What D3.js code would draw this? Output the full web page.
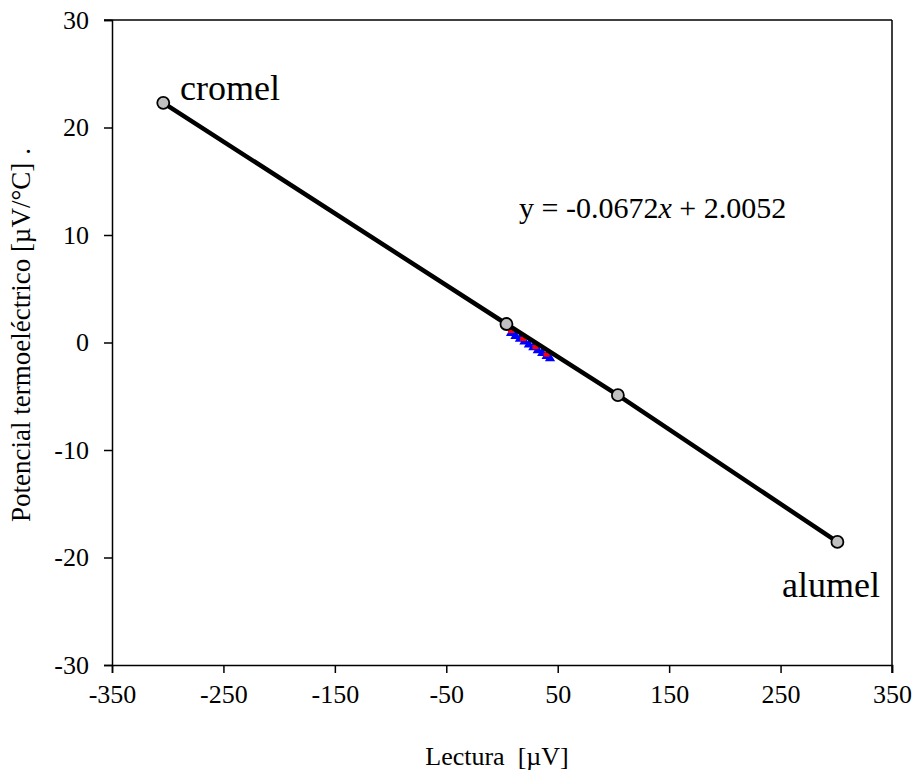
<!DOCTYPE html>
<html>
<head>
<meta charset="utf-8">
<script src="https://cdn.jsdelivr.net/npm/d3@7"></script>
<style>
  body { margin: 0; background: #fff; }
  text { font-family: "Liberation Serif", "Times New Roman", serif; fill: #000; }
</style>
</head>
<body>
<div id="chart"></div>
<script>
// calibration points (circles)
const puntosX = [-304, 4, 104, 301];
const puntosY = [22.3, 1.72, -4.9, -18.55];
// small measured points near the origin
const azulX = [9, 13, 17, 21, 25, 29, 33, 37, 41, 44];
const azulY = [1.25, 0.98, 0.72, 0.45, 0.18, -0.08, -0.35, -0.62, -0.88, -1.1];
const rojoX = [8, 19, 30, 40];
const rojoY = [1.35, 0.6, -0.15, -0.85];
const xTicks = [-350, -250, -150, -50, 50, 150, 250, 350];
const yTicks = [-30, -20, -10, 0, 10, 20, 30];

const width = 915, height = 777;
const margin = {top: 20, right: 23, bottom: 112, left: 112};

const svg = d3.select('#chart').append('svg')
    .attr('width', width).attr('height', height);

const x = d3.scaleLinear().domain([-350, 350]).range([margin.left, width - margin.right]);
const y = d3.scaleLinear().domain([-30, 30]).range([height - margin.bottom, margin.top]);

// frame (top + right)
svg.append('line')
    .attr('x1', x(-350) - 8).attr('x2', x(350))
    .attr('y1', y(30)).attr('y2', y(30))
    .attr('stroke', '#000').attr('stroke-width', 1.5);
svg.append('line')
    .attr('x1', x(350)).attr('x2', x(350))
    .attr('y1', y(30)).attr('y2', y(-30) + 8)
    .attr('stroke', '#000').attr('stroke-width', 1.5);

// X axis
const gx = svg.append('g')
    .attr('transform', `translate(0,${y(-30)})`)
    .call(d3.axisBottom(x).tickValues(xTicks).tickSize(8).tickPadding(12).tickFormat(d3.format('d')));
// Y axis
const gy = svg.append('g')
    .attr('transform', `translate(${x(-350)},0)`)
    .call(d3.axisLeft(y).tickValues(yTicks).tickSize(8).tickPadding(15).tickFormat(d3.format('d')));

[gx, gy].forEach(g => {
    g.attr('font-family', null).attr('font-size', null);
    g.select('.domain').attr('stroke', '#000').attr('stroke-width', 1.5);
    g.selectAll('.tick line').attr('stroke', '#000').attr('stroke-width', 1.5);
    g.selectAll('.tick text')
        .style('font-family', '"Liberation Serif", serif')
        .style('font-size', '26px').attr('fill', '#000')
        .text(d => d < 0 ? '-' + Math.abs(d) : d);
});

// small points under the line
svg.append('g').selectAll('path')
    .data(azulX.map((v, i) => ({x: v, y: azulY[i]})))
    .join('path')
    .attr('d', d3.symbol().type(d3.symbolTriangle).size(45))
    .attr('transform', d => `translate(${x(d.x) - 1},${y(d.y) + 4})`)
    .attr('fill', '#0000ff');
svg.append('g').selectAll('rect')
    .data(rojoX.map((v, i) => ({x: v, y: rojoY[i]})))
    .join('rect')
    .attr('x', d => x(d.x) - 3).attr('y', d => y(d.y) + 1)
    .attr('width', 6).attr('height', 4)
    .attr('fill', '#ff0000');

// fit line through calibration points
const puntos = puntosX.map((v, i) => ({x: v, y: puntosY[i]}));
svg.append('path')
    .datum(puntos)
    .attr('fill', 'none')
    .attr('stroke', '#000')
    .attr('stroke-width', 4.5)
    .attr('d', d3.line().x(d => x(d.x)).y(d => y(d.y)));

svg.append('g').selectAll('circle')
    .data(puntos)
    .join('circle')
    .attr('cx', d => x(d.x)).attr('cy', d => y(d.y))
    .attr('r', 6)
    .attr('fill', '#c0c0c0')
    .attr('stroke', '#000').attr('stroke-width', 1.8);

// labels
svg.append('text').attr('x', 180).attr('y', 100)
    .style('font-size', '36px').text('cromel');
svg.append('text').attr('x', 880).attr('y', 597)
    .attr('text-anchor', 'end')
    .style('font-size', '36px').text('alumel');

const eq = svg.append('text').attr('x', 519).attr('y', 218)
    .style('font-size', '30px');
eq.append('tspan').text('y = -0.0672');
eq.append('tspan').style('font-style', 'italic').text('x');
eq.append('tspan').text(' + 2.0052');

// axis titles
svg.append('text')
    .attr('x', 497).attr('y', 765)
    .attr('text-anchor', 'middle')
    .style('font-size', '26px')
    .style('white-space', 'pre')
    .text('Lectura  [µV]');
const yt = svg.append('text')
    .attr('transform', 'translate(30,522) rotate(-90)')
    .attr('text-anchor', 'start')
    .style('font-size', '27px');
yt.append('tspan').text('Potencial termoeléctrico [µV/°C]');
yt.append('tspan').attr('dx', 8).text('.');
</script>
</body>
</html>
